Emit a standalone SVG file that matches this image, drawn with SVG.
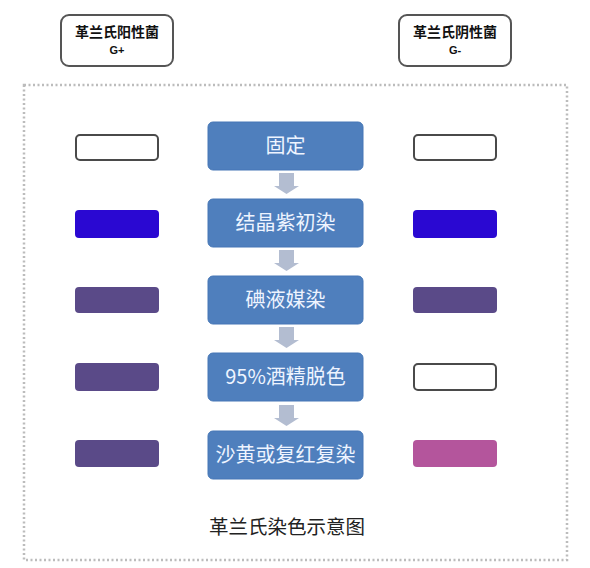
<svg xmlns="http://www.w3.org/2000/svg" width="590" height="568" viewBox="0 0 590 568">
<defs>
<style>
.hdr{fill:#fff;stroke:#555;stroke-width:2}
.ht{font-family:"Liberation Sans","Noto Sans CJK SC",sans-serif;font-weight:bold;fill:#111;text-anchor:middle}
.step{fill:#4f7fbd;stroke:#4677b6;stroke-width:1}
.st{font-family:"Noto Sans CJK SC","Liberation Sans",sans-serif;font-size:20px;fill:#eef4ff;text-anchor:middle}
.empty{fill:#fff;stroke:#4a4a4a;stroke-width:2}
.blue{fill:#2a08d2}
.purp{fill:#5a4a88}
.mag{fill:#b4559c}
.arr{fill:#b3bdd1}
</style>
</defs>
<rect x="24" y="85" width="543" height="475" fill="none" stroke="#bcbcbc" stroke-width="2.5" stroke-dasharray="2 2.5"/>
<g id="gpos">
<rect class="hdr" x="61" y="15" width="112" height="51" rx="8"/>
<text class="ht" x="117" y="37" font-size="14">革兰氏阳性菌</text>
<text class="ht" x="117" y="54" font-size="11">G+</text>
</g>
<g id="gneg">
<rect class="hdr" x="399" y="15" width="112" height="51" rx="8"/>
<text class="ht" x="455" y="37" font-size="14">革兰氏阴性菌</text>
<text class="ht" x="455" y="54" font-size="11">G-</text>
</g>
<g id="connectors">
<path class="arr" d="M279,173h15v13h5l-12.5,8l-12.5,-8h5z"/>
<path class="arr" d="M279,250h15v13h5l-12.5,8l-12.5,-8h5z"/>
<path class="arr" d="M279,327h15v13h5l-12.5,8l-12.5,-8h5z"/>
<path class="arr" d="M279,405h15v13h5l-12.5,8l-12.5,-8h5z"/>
</g>
<g id="s1"><rect class="step" x="208" y="122" width="155" height="48" rx="5"/><text class="st" x="285.5" y="153">固定</text></g>
<g id="s2"><rect class="step" x="208" y="199" width="155" height="48" rx="5"/><text class="st" x="285.5" y="230">结晶紫初染</text></g>
<g id="s3"><rect class="step" x="208" y="276" width="155" height="48" rx="5"/><text class="st" x="285.5" y="307">碘液媒染</text></g>
<g id="s4"><rect class="step" x="208" y="353" width="155" height="48" rx="5"/><text class="st" x="285.5" y="384">95%酒精脱色</text></g>
<g id="s5"><rect class="step" x="208" y="431" width="155" height="48" rx="5"/><text class="st" x="285.5" y="462">沙黄或复红复染</text></g>
<g id="l1"><rect class="empty" x="76" y="135" width="82" height="25" rx="4"/></g>
<g id="l2"><rect class="blue" x="75" y="210" width="84" height="28" rx="4"/></g>
<g id="l3"><rect class="purp" x="75" y="287" width="84" height="26" rx="4"/></g>
<g id="l4"><rect class="purp" x="75" y="363" width="84" height="28" rx="4"/></g>
<g id="l5"><rect class="purp" x="75" y="440" width="84" height="27" rx="4"/></g>
<g id="r1"><rect class="empty" x="414" y="135" width="82" height="25" rx="4"/></g>
<g id="r2"><rect class="blue" x="413" y="210" width="84" height="28" rx="4"/></g>
<g id="r3"><rect class="purp" x="413" y="287" width="84" height="26" rx="4"/></g>
<g id="r4"><rect class="empty" x="414" y="364" width="82" height="26" rx="4"/></g>
<g id="r5"><rect class="mag" x="413" y="440" width="84" height="27" rx="4"/></g>
<text x="287" y="534" font-family="Noto Sans CJK SC,Liberation Sans,sans-serif" font-size="19.5" fill="#222" text-anchor="middle">革兰氏染色示意图</text>
</svg>
